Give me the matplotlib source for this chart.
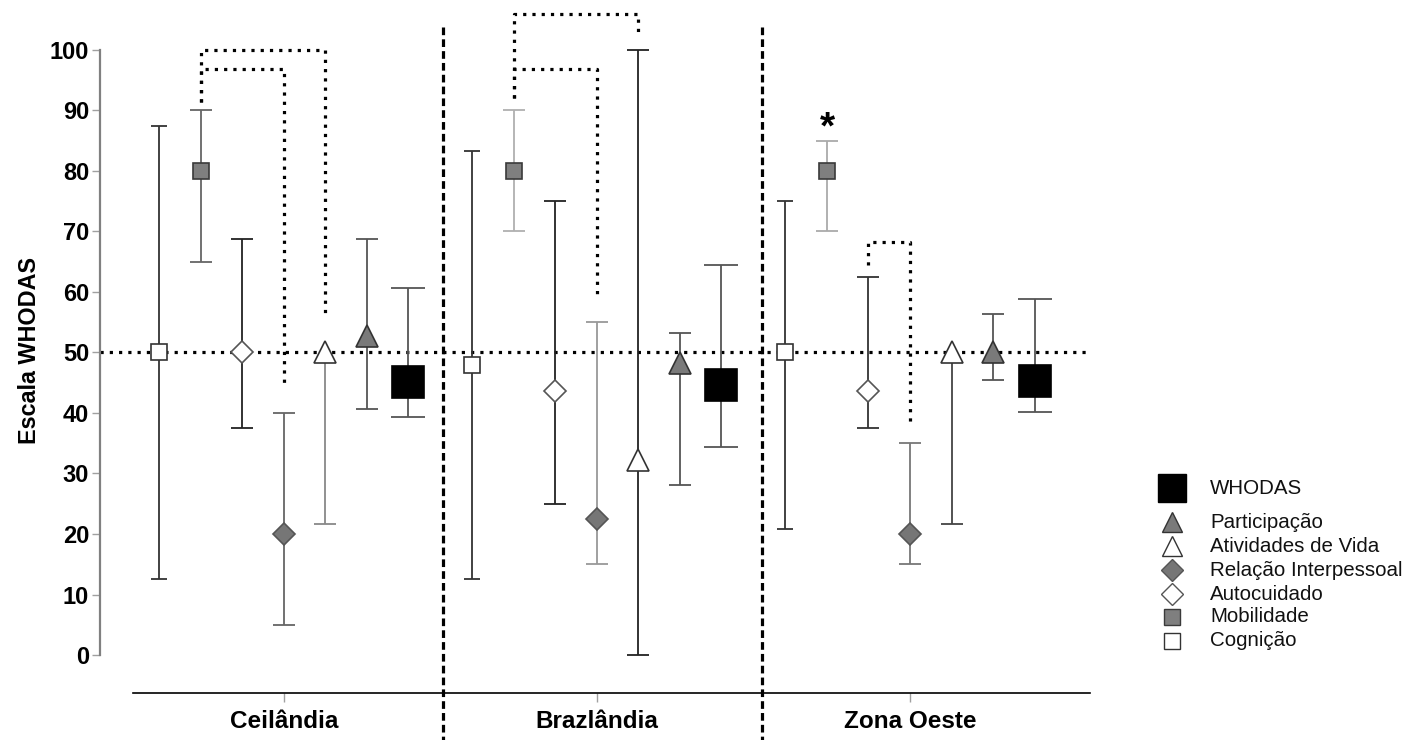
import matplotlib
matplotlib.use("Agg")
import matplotlib.pyplot as plt
from matplotlib.lines import Line2D
import numpy as np

plt.rcParams['font.family'] = ['Liberation Sans', 'DejaVu Sans']

# ---------------- data ----------------
groups = ["Ceilândia", "Brazlândia", "Zona Oeste"]
series = ["Cognição", "Mobilidade", "Autocuidado", "Relação Interpessoal",
          "Atividades de Vida", "Participação", "WHODAS"]

cognicao_mean = [50.0, 47.9, 50.0]
cognicao_lo = [12.5, 12.5, 20.8]
cognicao_hi = [87.5, 83.3, 75.0]

mobilidade_mean = [80.0, 80.0, 80.0]
mobilidade_lo = [65.0, 70.0, 70.0]
mobilidade_hi = [90.0, 90.0, 85.0]

autocuidado_mean = [50.0, 43.7, 43.7]
autocuidado_lo = [37.5, 25.0, 37.5]
autocuidado_hi = [68.75, 75.0, 62.5]

relacao_mean = [20.0, 22.5, 20.0]
relacao_lo = [5.0, 15.0, 15.0]
relacao_hi = [40.0, 55.0, 35.0]

atividades_mean = [50.0, 32.3, 50.0]
atividades_lo = [21.7, 0.0, 21.7]
atividades_hi = [50.0, 100.0, 50.0]

participacao_mean = [52.8, 48.3, 50.0]
participacao_lo = [40.6, 28.1, 45.5]
participacao_hi = [68.75, 53.2, 56.3]

whodas_mean = [45.2, 44.6, 45.3]
whodas_lo = [39.4, 34.4, 40.1]
whodas_hi = [60.7, 64.4, 58.8]

reference_line = 50
yticks = [0, 10, 20, 30, 40, 50, 60, 70, 80, 90, 100]

# significance brackets: (group, from series idx, to series idx, start y, top y, end y)
bracket_group = [0, 0, 1, 1, 2]
bracket_from = [1, 1, 1, 1, 2]
bracket_to = [4, 3, 4, 3, 3]
bracket_y_start = [91.4, 91.4, 92.0, 92.0, 64.5]
bracket_y_top = [100.0, 96.8, 105.9, 96.8, 68.3]
bracket_y_end = [56.2, 44.8, 103.0, 59.0, 38.3]

asterisk_group = 2
asterisk_series = 1
asterisk_y = 87.0

# ---------------- styles ----------------
means = [cognicao_mean, mobilidade_mean, autocuidado_mean, relacao_mean,
         atividades_mean, participacao_mean, whodas_mean]
los = [cognicao_lo, mobilidade_lo, autocuidado_lo, relacao_lo,
       atividades_lo, participacao_lo, whodas_lo]
his = [cognicao_hi, mobilidade_hi, autocuidado_hi, relacao_hi,
       atividades_hi, participacao_hi, whodas_hi]

markers = ['s', 's', 'D', 'D', '^', '^', 's']
msizes = [11.5, 11.0, 11.5, 11.5, 16.5, 16.5, 23.5]
faces = ['white', '#7f7f7f', 'white', '#767676', 'white', '#7a7a7a', 'black']
edges = ['#333333', '#3a3a3a', '#555555', '#555555', '#333333', '#333333', 'black']
capw = [12, 16, 16, 16, 16, 16, 24]
err_colors = [
    ['#333333', '#333333', '#333333'],
    ['#666666', '#b0b0b0', '#aaaaaa'],
    ['#222222', '#222222', '#333333'],
    ['#666666', '#999999', '#777777'],
    ['#888888', '#222222', '#444444'],
    ['#555555', '#555555', '#555555'],
    ['#555555', '#555555', '#555555'],
]

W, H = 1414, 740
PX = 72 / 100  # points per pixel
fig = plt.figure(figsize=(W / 100, H / 100), dpi=100)
ax = fig.add_axes([133 / W, 1 - 693 / H, (1090 - 133) / W, (693 - 8) / H])
ax.set_xlim(-0.482, 2.575)
ax.set_ylim(-6.28, 106.94)

step = 0.1326
offsets = (np.arange(7) - 3) * step
gx = np.arange(len(groups))

dot_style = dict(color='black', lw=2.3, linestyle=(0, (1, 1.9)),
                 dash_capstyle='butt', clip_on=False)

# reference dotted line
ax.plot([-0.588, 2.575], [reference_line, reference_line], zorder=1, **dot_style)

# error bars + markers
for i in range(7):
    xs = gx + offsets[i]
    for g in range(3):
        m, lo, hi = means[i][g], los[i][g], his[i][g]
        c = err_colors[i][g]
        ax.plot([xs[g], xs[g]], [lo, hi], color=c, lw=1.3, zorder=2,
                solid_capstyle='butt')
        if lo < m:
            ax.plot([xs[g]], [lo], marker='_', ms=capw[i], mew=1.3, color=c, zorder=2)
        if hi > m:
            ax.plot([xs[g]], [hi], marker='_', ms=capw[i], mew=1.3, color=c, zorder=2)
    ax.plot(xs, means[i], linestyle='none', marker=markers[i], ms=msizes[i],
            mfc=faces[i], mec=edges[i], mew=1.2, zorder=4)

# brackets
for b in range(len(bracket_group)):
    x0 = bracket_group[b] + offsets[bracket_from[b]]
    x1 = bracket_group[b] + offsets[bracket_to[b]]
    ax.plot([x0, x0, x1, x1],
            [bracket_y_start[b], bracket_y_top[b], bracket_y_top[b], bracket_y_end[b]],
            zorder=3, solid_joinstyle='round', **dot_style)

# asterisk
ax.text(asterisk_group + offsets[asterisk_series], asterisk_y, '*',
        ha='center', va='center', fontsize=28, fontweight='bold')

# group separators
for sx in [0.508, 1.527]:
    ax.plot([sx, sx], [103.8, -14.2], color='black', lw=2.3,
            linestyle=(0, (2.4, 1.3)), clip_on=False, zorder=3)

# axes styling
for s in ['top', 'right']:
    ax.spines[s].set_visible(False)
ax.spines['left'].set_position(('outward', 33 * PX))
ax.spines['left'].set_bounds(0, 100)
ax.spines['left'].set_color('#808080')
ax.spines['left'].set_linewidth(1.6)
ax.spines['bottom'].set_color('black')
ax.spines['bottom'].set_linewidth(1.2)

ax.set_yticks(yticks)
ax.set_yticklabels([str(t) for t in yticks], fontsize=17, fontweight='bold')
ax.tick_params(axis='y', length=8 * PX, width=1.0, color='#a0a0a0', pad=3 * PX)
ax.set_xticks(gx)
ax.set_xticklabels(groups, fontsize=17.5, fontweight='bold')
ax.tick_params(axis='x', length=9 * PX, width=1.0, color='#a0a0a0', pad=8 * PX)

fig.text(30 / W, 1 - 350 / H, 'Escala WHODAS', rotation=90, ha='center',
         va='center', fontsize=16.8, fontweight='bold')

# legend (manual)
leg_y = [488, 522, 546, 570, 594, 617, 641]
leg_order = [6, 5, 4, 3, 2, 1, 0]
leg_ms = [20, 14.5, 14.5, 11.5, 11.5, 11, 11]
for k, i in enumerate(leg_order):
    yy = 1 - leg_y[k] / H
    fig.add_artist(Line2D([1172 / W], [yy], marker=markers[i], ms=leg_ms[k],
                          mfc=faces[i], mec=edges[i], mew=1.0, linestyle='none',
                          transform=fig.transFigure))
    fig.text(1210 / W, yy, series[i], ha='left', va='center', fontsize=14.8,
             color='#111111')

fig.savefig('out.png', dpi=100)
